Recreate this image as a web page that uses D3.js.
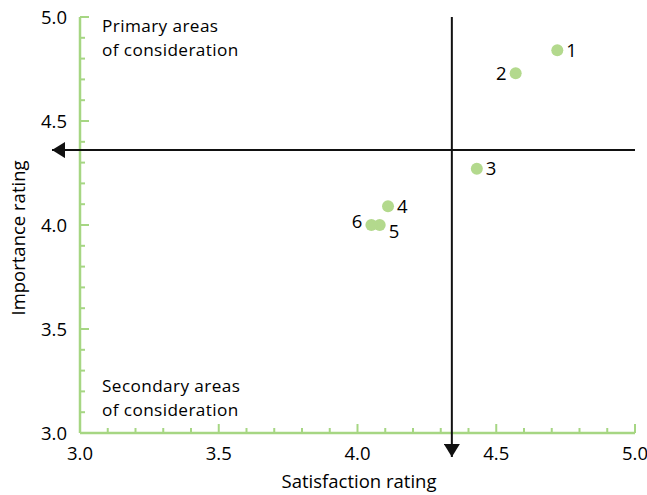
<!DOCTYPE html>
<html><head><meta charset="utf-8">
<script src="https://cdn.jsdelivr.net/npm/d3@7"></script>
<style>body{margin:0;background:#fff}svg{display:block}text{font-family:"Open Sans",sans-serif;fill:#000}</style>
</head><body><svg id="c" width="647" height="495"></svg>
<script>
const pointLabels = ["1","2","3","4","5","6"];
const satisfaction = [4.72,4.57,4.43,4.11,4.08,4.05];
const importance = [4.84,4.73,4.27,4.09,4.00,4.00];
const meanSatisfaction = 4.34;
const meanImportance = 4.36;
const xTicks = [3.0,3.5,4.0,4.5,5.0];
const yTicks = [3.0,3.5,4.0,4.5,5.0];
const labelSide = ["r","l","r","r","rb","la"];
const primaryNote = ["Primary areas","of consideration"];
const secondaryNote = ["Secondary areas","of consideration"];

const svg = d3.select("#c");
const x = d3.scaleLinear().domain([3,5]).range([80,635]);
const y = d3.scaleLinear().domain([3,5]).range([433,17]);
const green = "#a6d683";
const fmt = d3.format(".1f");
const FS = 18.5;
const NFS = 17.2;

const minor = d3.range(30,51).map(d=>d/10);
const isMajor = d => Math.abs(d*2-Math.round(d*2))<1e-6;
const gx = svg.append("g");
gx.append("line").attr("x1",x(3)).attr("x2",x(5)).attr("y1",y(3)).attr("y2",y(3)).attr("stroke",green).attr("stroke-width",2.5);
gx.selectAll("line.t").data(minor).join("line").attr("class","t")
  .attr("x1",d=>x(d)).attr("x2",d=>x(d)).attr("y1",y(3))
  .attr("y2",d=>y(3)-(isMajor(d)?9:5)).attr("stroke",green).attr("stroke-width",2);
gx.selectAll("text").data(xTicks).join("text").attr("x",d=>x(d)).attr("y",460)
  .attr("text-anchor","middle").attr("font-size",FS).text(fmt);

const gy = svg.append("g");
gy.append("line").attr("x1",x(3)).attr("x2",x(3)).attr("y1",y(3)).attr("y2",y(5)).attr("stroke",green).attr("stroke-width",2.5);
gy.selectAll("line.t").data(minor).join("line").attr("class","t")
  .attr("y1",d=>y(d)).attr("y2",d=>y(d)).attr("x1",x(3))
  .attr("x2",d=>x(3)+(isMajor(d)?9:5)).attr("stroke",green).attr("stroke-width",2);
gy.selectAll("text").data(yTicks).join("text").attr("x",67).attr("y",d=>y(d)+6.5)
  .attr("text-anchor","end").attr("font-size",FS).text(fmt);

svg.append("text").attr("x",359).attr("y",488).attr("text-anchor","middle").attr("font-size",FS).text("Satisfaction rating");
svg.append("text").attr("transform","translate(25,238) rotate(-90)").attr("text-anchor","middle").attr("font-size",FS).text("Importance rating");

svg.append("defs").append("marker").attr("id","arr").attr("viewBox","0 0 13 16").attr("refX",13).attr("refY",8)
  .attr("markerWidth",13).attr("markerHeight",16).attr("markerUnits","userSpaceOnUse").attr("orient","auto")
  .append("path").attr("d","M0,0L13,8L0,16Z").attr("fill","#111");
svg.append("line").attr("x1",x(meanSatisfaction)).attr("x2",x(meanSatisfaction)).attr("y1",y(5)).attr("y2",457)
  .attr("stroke","#111").attr("stroke-width",2).attr("marker-end","url(#arr)");
svg.append("line").attr("x1",x(5)).attr("x2",52).attr("y1",y(meanImportance)).attr("y2",y(meanImportance))
  .attr("stroke","#111").attr("stroke-width",2).attr("marker-end","url(#arr)");

const note = (lines, yy) => {
  svg.append("g").selectAll("text").data(lines).join("text")
    .attr("x",102).attr("y",(d,i)=>yy+i*23.6).attr("font-size",NFS).attr("letter-spacing",0.4).text(d=>d);
};
note(primaryNote,32);
note(secondaryNote,392);

const pts = pointLabels.map((l,i)=>({l,sx:satisfaction[i],iy:importance[i],side:labelSide[i]}));
svg.selectAll("circle.p").data(pts).join("circle").attr("class","p")
  .attr("cx",d=>x(d.sx)).attr("cy",d=>y(d.iy)).attr("r",6).attr("fill","#b3d98d");
svg.selectAll("text.pl").data(pts).join("text").attr("class","pl").attr("font-size",FS)
  .attr("x",d=>x(d.sx)+(d.side[0]==="r"?9:-9))
  .attr("y",d=>y(d.iy)+6.5+(d.side==="rb"?6:d.side==="la"?-4:0))
  .attr("text-anchor",d=>d.side[0]==="r"?"start":"end").text(d=>d.l);
</script></body></html>
